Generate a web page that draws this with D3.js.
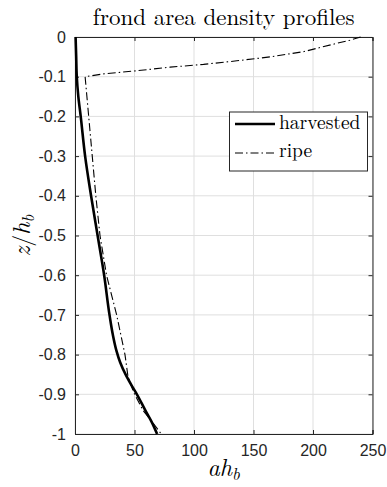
<!DOCTYPE html>
<html>
<head>
<meta charset="utf-8">
<script src="https://cdn.jsdelivr.net/npm/d3@7"></script>
<style>
  body { margin: 0; background: #fff; }
  svg { display: block; }
</style>
</head>
<body>
<div id="chart"></div>
<script>
// ---------- DATA ----------
const xTicks = [0, 50, 100, 150, 200, 250];
const yTicks = [0, -0.1, -0.2, -0.3, -0.4, -0.5, -0.6, -0.7, -0.8, -0.9, -1];

// harvested profile (solid)
const harvestedZ = [0, -0.05, -0.1, -0.15, -0.2, -0.3, -0.4, -0.5, -0.6, -0.7, -0.75, -0.79, -0.82, -0.85, -0.88, -0.9, -0.94, -0.97, -1];
const harvestedA = [0.5, 1, 1.5, 2.8, 4.8, 8.5, 13.5, 19, 24.5, 29, 31.8, 34.8, 38, 42.5, 48, 52, 59, 64.5, 69];

// ripe profile (dash-dot)
const ripeZ = [0, -0.008, -0.016, -0.037, -0.05, -0.06, -0.069, -0.076, -0.085, -0.093, -0.1, -0.2, -0.3, -0.4, -0.5, -0.6, -0.7, -0.8, -0.855, -0.893, -0.94, -0.97, -1];
const ripeA = [240, 231, 220, 192, 164, 136, 108, 80, 52, 24, 8.5, 11.5, 14.5, 17.5, 21, 26.5, 35, 42, 44.5, 49, 57, 65, 72.5];

const seriesNames = ["harvested", "ripe"];

// ---------- LAYOUT ----------
const size = { w: 387, h: 487 };
const margin = { top: 37, right: 14.5, bottom: 53, left: 75 };
const axisColor = "#262626";
const gridColor = "#dfdfdf";

const svg = d3.select("#chart")
	.append("svg")
	.attr("width", size.w)
	.attr("height", size.h);

const x = d3.scaleLinear()
	.domain([0, 250])
	.range([margin.left, size.w - margin.right]);
const y = d3.scaleLinear()
	.domain([-1, 0])
	.range([size.h - margin.bottom, margin.top]);

// grid
svg.append("g")
	.selectAll("line")
	.data(xTicks)
	.join("line")
	.attr("x1", (d) => x(d)).attr("x2", (d) => x(d))
	.attr("y1", y(-1)).attr("y2", y(0))
	.attr("stroke", gridColor);
svg.append("g")
	.selectAll("line")
	.data(yTicks)
	.join("line")
	.attr("x1", x(0)).attr("x2", x(250))
	.attr("y1", (d) => y(d)).attr("y2", (d) => y(d))
	.attr("stroke", gridColor);

// axes (MATLAB style: ticks inward, box on)
const tickFont = "'Liberation Sans', Arial, sans-serif";
const fmtY = (d) => (d === 0 ? "0" : d === -1 ? "-1" : "-" + d3.format(".1f")(-d));

const xAxis = svg.append("g")
	.attr("transform", `translate(0, ${y(-1)})`)
	.call(d3.axisBottom(x).tickValues(xTicks).tickSize(-4).tickPadding(11).tickFormat(d3.format("d")));
const xAxisTop = svg.append("g")
	.attr("transform", `translate(0, ${y(0)})`)
	.call(d3.axisTop(x).tickValues(xTicks).tickSize(-4).tickFormat(""));
const yAxis = svg.append("g")
	.attr("transform", `translate(${x(0)}, 0)`)
	.call(d3.axisLeft(y).tickValues(yTicks).tickSize(-4).tickPadding(9).tickFormat(fmtY));
const yAxisRight = svg.append("g")
	.attr("transform", `translate(${x(250)}, 0)`)
	.call(d3.axisRight(y).tickValues(yTicks).tickSize(-4).tickFormat(""));

[xAxis, xAxisTop, yAxis, yAxisRight].forEach((a) => {
	a.select(".domain").attr("stroke", axisColor).attr("stroke-width", 1);
	a.selectAll(".tick line").attr("stroke", axisColor);
	a.selectAll(".tick text")
		.attr("fill", axisColor)
		.style("font-family", tickFont)
		.style("font-size", "16px");
});

// lines
const line = d3.line()
	.x((d) => x(d[0]))
	.y((d) => y(d[1]));
const smoothLine = d3.line()
	.curve(d3.curveMonotoneY)
	.x((d) => x(d[0]))
	.y((d) => y(d[1]));

const harvested = harvestedA.map((a, i) => [a, harvestedZ[i]]);
const ripe = ripeA.map((a, i) => [a, ripeZ[i]]);

svg.append("path")
	.datum(ripe)
	.attr("fill", "none")
	.attr("stroke", "#000")
	.attr("stroke-width", 1.1)
	.attr("stroke-dasharray", "8,3,1.5,3")
	.attr("d", line);

svg.append("path")
	.datum(harvested)
	.attr("fill", "none")
	.attr("stroke", "#000")
	.attr("stroke-width", 2.6)
	.attr("stroke-linejoin", "round")
	.attr("d", smoothLine);

// titles
const serif = "'Latin Modern Roman', 'CMU Serif', 'Liberation Serif', 'DejaVu Serif', serif";

svg.append("text")
	.attr("x", (x(0) + x(250)) / 2)
	.attr("y", 25)
	.attr("text-anchor", "middle")
	.style("font-family", serif)
	.style("font-size", "23px")
	.attr("fill", "#000")
	.text("frond area density profiles");

const xl = svg.append("text")
	.attr("x", (x(0) + x(250)) / 2)
	.attr("y", 476)
	.attr("text-anchor", "middle")
	.style("font-family", serif)
	.style("font-size", "24px")
	.style("font-style", "italic");
xl.append("tspan").text("ah");
xl.append("tspan").attr("dy", 4).style("font-size", "17px").text("b");

const yl = svg.append("text")
	.attr("transform", `translate(30, ${(y(0) + y(-1)) / 2}) rotate(-90)`)
	.attr("text-anchor", "middle")
	.style("font-family", serif)
	.style("font-size", "24px")
	.style("font-style", "italic");
yl.append("tspan").text("z");
yl.append("tspan").style("font-style", "normal").text("/");
yl.append("tspan").text("h");
yl.append("tspan").attr("dy", 4).style("font-size", "17px").text("b");

// legend
const legend = svg.append("g");
legend.append("rect")
	.attr("x", 229.5).attr("y", 112)
	.attr("width", 138).attr("height", 59)
	.attr("fill", "#fff")
	.attr("stroke", axisColor)
	.attr("stroke-width", 1);

const legendStyles = [
	{ w: 2.6, dash: null, ly: 124, ty: 129 },
	{ w: 1.1, dash: "8,3,1.5,3", ly: 153, ty: 157 },
];
seriesNames.forEach((name, i) => {
	const s = legendStyles[i];
	legend.append("line")
		.attr("x1", 235).attr("x2", 275)
		.attr("y1", s.ly).attr("y2", s.ly)
		.attr("stroke", "#000")
		.attr("stroke-width", s.w)
		.attr("stroke-dasharray", s.dash);
	legend.append("text")
		.attr("x", 279).attr("y", s.ty)
		.style("font-family", serif)
		.style("font-size", "19.5px")
		.attr("fill", "#000")
		.text(name);
});
</script>
</body>
</html>
